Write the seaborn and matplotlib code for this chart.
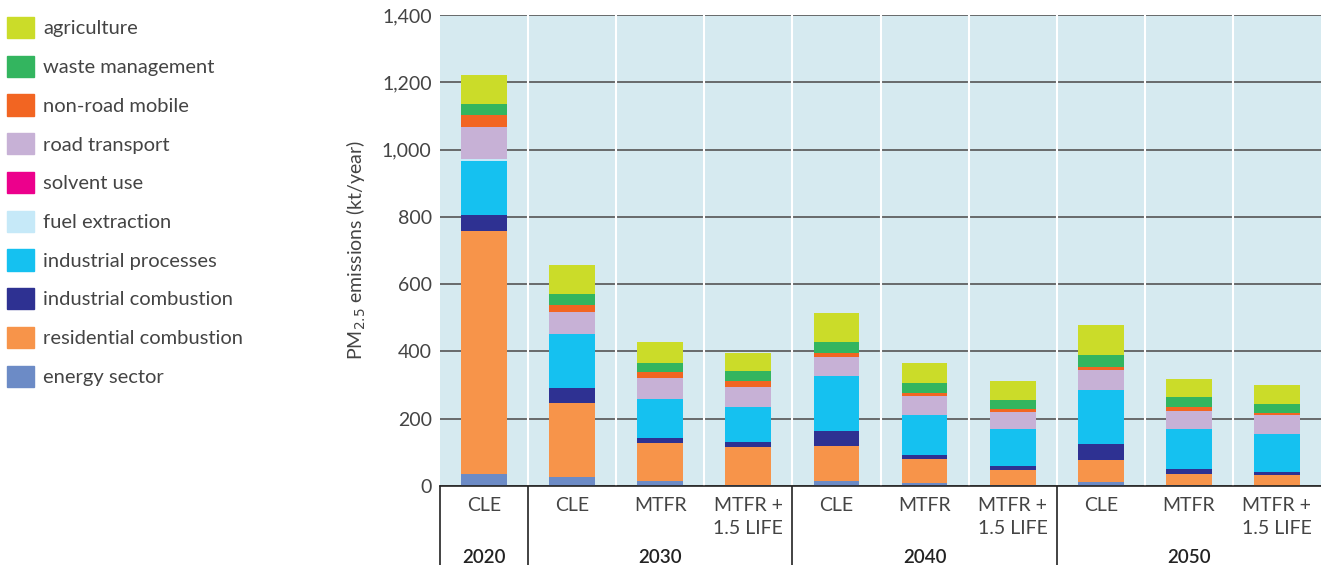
import matplotlib
matplotlib.use("Agg")
import matplotlib.pyplot as plt
import matplotlib.patches as mpatches
import matplotlib.transforms as mtransforms
import numpy as np
import pandas as pd
import seaborn as sns

# ---- data ----
years = ["2020", "2030", "2030", "2030", "2040", "2040", "2040", "2050", "2050", "2050"]
scenarios = ["CLE", "CLE", "MTFR", "MTFR +\n1.5 LIFE", "CLE", "MTFR", "MTFR +\n1.5 LIFE",
             "CLE", "MTFR", "MTFR +\n1.5 LIFE"]
year_groups = ["2020", "2030", "2040", "2050"]

energy_sector = [36, 27, 14, 3, 15, 9, 3, 12, 2, 1]
residential_combustion = [722, 220, 114, 113, 104, 71, 45, 65, 34, 32]
industrial_combustion = [47, 44, 15, 15, 44, 12, 11, 48, 15, 9]
industrial_processes = [161, 161, 116, 104, 164, 119, 110, 160, 118, 113]
fuel_extraction = [6, 1, 1, 1, 1, 1, 1, 1, 1, 1]
solvent_use = [0, 0, 0, 0, 0, 0, 0, 0, 0, 0]
road_transport = [95, 65, 62, 59, 56, 57, 49, 60, 54, 56]
non_road_mobile = [35, 20, 18, 17, 10, 8, 9, 9, 12, 6]
waste_management = [33, 34, 27, 31, 35, 30, 27, 35, 30, 27]
agriculture = [87, 86, 62, 51, 86, 60, 56, 89, 53, 56]

sectors = ["energy sector", "residential combustion", "industrial combustion",
           "industrial processes", "fuel extraction", "solvent use", "road transport",
           "non-road mobile", "waste management", "agriculture"]
values = [energy_sector, residential_combustion, industrial_combustion,
          industrial_processes, fuel_extraction, solvent_use, road_transport,
          non_road_mobile, waste_management, agriculture]
colors = ["#6c8bc6", "#f7944a", "#2e3192", "#15c1f0", "#c6e9f8", "#ec008c",
          "#c7b1d6", "#f26522", "#33b55f", "#cbdc29"]

# ---- build table ----
bar_ids = [f"{y} {s}" for y, s in zip(years, scenarios)]
df = pd.DataFrame({"bar": bar_ids})
cum = np.zeros(len(bar_ids))
for name, v in zip(sectors, values):
    cum = cum + np.array(v, dtype=float)
    df[name] = cum.copy()

# ---- figure ----
sns.set_style("white")
plt.rcParams["font.family"] = ["Lato", "DejaVu Sans"]
TXT = "#444444"
fig = plt.figure(figsize=(13.21, 5.65), dpi=100)
ax = fig.add_axes([440 / 1321, 1 - 486 / 565, 1 - 440 / 1321, (486 - 15) / 565])
ax.set_facecolor("#d6eaf0")

# cumulative layers, topmost total first
for name, col in zip(sectors[::-1], colors[::-1]):
    sns.barplot(data=df, x="bar", y=name, order=bar_ids, color=col, width=0.52,
                saturation=1, ax=ax, zorder=3, linewidth=0)

ax.set_xlim(-0.5, len(bar_ids) - 0.5)
ax.set_ylim(0, 1400)
ax.set_yticks(np.arange(0, 1401, 200))
ax.set_yticklabels([f"{t:,}" for t in range(0, 1401, 200)])
ax.yaxis.grid(True, color="#555555", lw=1.2, zorder=1)
ax.xaxis.grid(False)
for x in np.arange(0.5, len(bar_ids) - 0.5, 1):
    ax.axvline(x, color="white", lw=1.5, zorder=2)

for s in ["top", "right", "left"]:
    ax.spines[s].set_visible(False)
ax.spines["bottom"].set_color("#222222")
ax.spines["bottom"].set_linewidth(1.2)
ax.spines["bottom"].set_zorder(5)

ax.tick_params(axis="both", length=0, labelsize=14, labelcolor=TXT)
ax.tick_params(axis="y", pad=6)
ax.set_xticks(range(len(bar_ids)))
ax.set_xticklabels(scenarios, linespacing=1.4, va="top")
ax.tick_params(axis="x", pad=8)

ax.set_xlabel("")
ax.set_ylabel("PM$_{2.5}$ emissions (kt/year)", fontsize=14, color=TXT, labelpad=10)

# year group labels and separators
trans = mtransforms.blended_transform_factory(ax.transData, ax.transAxes)
starts = {}
for i, y in enumerate(years):
    starts.setdefault(y, []).append(i)
for y in year_groups:
    idx = starts[y]
    center = (idx[0] + idx[-1]) / 2
    ax.text(center, -0.152, y, transform=trans, ha="center", va="center",
            fontsize=13.5, color="#222222", fontweight="semibold")
    left = idx[0] - 0.5
    ax.plot([left, left], [0, -0.2], transform=trans, color="#222222", lw=1.2,
            clip_on=False, zorder=5)

# legend
handles = [mpatches.Patch(color=c, label=n) for n, c in zip(sectors[::-1], colors[::-1])]
leg = fig.legend(handles=handles, loc="upper left", bbox_to_anchor=(0.0, 1 - 10 / 565),
                 frameon=False, fontsize=14.5, handlelength=1.35, handleheight=1.25,
                 labelspacing=0.865, handletextpad=0.45, borderaxespad=0.0,
                 borderpad=0.35)
for t in leg.get_texts():
    t.set_color(TXT)

fig.savefig("out.png", dpi=100)
